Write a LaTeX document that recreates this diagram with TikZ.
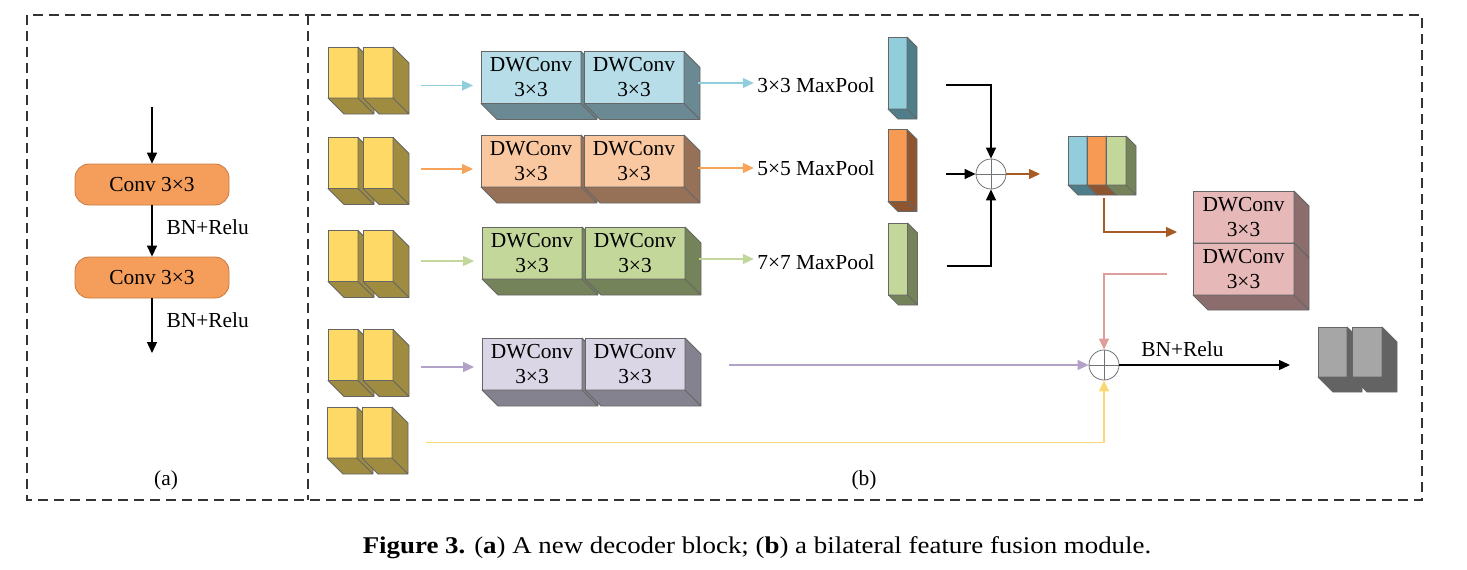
\documentclass[tikz,border=0pt]{standalone}
\usepackage{fontspec}
\setmainfont{Liberation Serif}
\newfontfamily\capfont[FakeStretch=1.12]{Liberation Serif}
\usetikzlibrary{arrows.meta,calc,positioning}

\definecolor{yfront}{HTML}{FFD966}
\definecolor{yside}{HTML}{A08C40}
\definecolor{bfront}{HTML}{B7DDE8}
\definecolor{bside}{HTML}{6B8993}
\definecolor{bbar}{HTML}{92CDDC}
\definecolor{bbarside}{HTML}{4F7D89}
\definecolor{ofront}{HTML}{FAC8A0}
\definecolor{oside}{HTML}{977157}
\definecolor{obar}{HTML}{F79A53}
\definecolor{obarside}{HTML}{8E5630}
\definecolor{gfront}{HTML}{C4D79B}
\definecolor{gside}{HTML}{74835A}
\definecolor{pfront}{HTML}{DAD6E6}
\definecolor{pside}{HTML}{858290}
\definecolor{kfront}{HTML}{E6B9B8}
\definecolor{kside}{HTML}{8B6D6D}
\definecolor{dfront}{HTML}{A6A6A6}
\definecolor{dside}{HTML}{636363}
\definecolor{convfill}{HTML}{F59E5B}
\definecolor{convedge}{HTML}{C77A40}
\definecolor{barrow}{HTML}{92CDDC}
\definecolor{oarrow}{HTML}{F7A35C}
\definecolor{garrow}{HTML}{C3D69B}
\definecolor{parrow}{HTML}{B3A2C7}
\definecolor{yarrow}{HTML}{FAD973}
\definecolor{karrow}{HTML}{DE9E9C}
\definecolor{brarrow}{HTML}{A65A24}

\begin{document}
\begin{tikzpicture}[
  x=1pt, y=-1pt,
  font=\fontsize{21.4}{25}\selectfont,
  conv/.style={rectangle, rounded corners=14pt, draw=convedge, line width=0.8pt, fill=convfill, minimum width=154pt, minimum height=41pt},
  face/.style={rectangle, draw=black!60, line width=0.8pt, inner sep=0pt, outer sep=0pt, align=center},
  yface/.style={face, fill=yfront, minimum width=30pt, minimum height=51pt},
  dw/.style={face, minimum width=100pt, minimum height=52pt},
  bar/.style={face, minimum width=19pt, minimum height=72pt},
  side/.style={draw=black!60, line width=0.8pt, line join=round},
  sum/.style={circle, draw=black!55, line width=0.8pt, minimum size=30pt, inner sep=0pt,
    path picture={\draw[black!55, line width=0.8pt] (path picture bounding box.north) -- (path picture bounding box.south)
      (path picture bounding box.west) -- (path picture bounding box.east);}},
  arrow/.style={-{Triangle[length=11pt,width=10pt]}, line width=1.3pt},
  frame/.style={draw=black!80, line width=1.8pt, dash pattern=on 10pt off 6pt}
]
\useasboundingbox (0,0) rectangle (1467,570);

% panels
\draw[frame] (27,15) rectangle (1422,500);
\draw[frame] (308,15) -- (308,500);
\node (la) at (166,480) {(a)};
\node (lb) at (864,480) {(b)};

% (a) decoder block
\coordinate (ain) at (152,107);
\node[conv] (conv1) at (152,184.5) {Conv 3×3};
\node[conv] (conv2) at (152,277.5) {Conv 3×3};
\coordinate (aout) at (152,353);
\draw[arrow] (ain) -- (conv1);
\draw[arrow] (conv1) -- (conv2);
\draw[arrow] (conv2) -- (aout);
\node[anchor=west] (bn1) at (163,227) {BN+Relu};
\node[anchor=west] (bn2) at (163,320) {BN+Relu};

% (b) input features
\node[yface] (y1a) at (343,72.5) {};
\filldraw[side, fill=yside] (y1a.north east) -- ++(16,16) -- ++(0,51) -- ++(-30,0) -- (y1a.south west) -- (y1a.south east) -- cycle (y1a.south east) -- ++(16,16);
\node[yface, right=5pt of y1a] (y1b) {};
\filldraw[side, fill=yside] (y1b.north east) -- ++(16,16) -- ++(0,51) -- ++(-30,0) -- (y1b.south west) -- (y1b.south east) -- cycle (y1b.south east) -- ++(16,16);

\node[yface] (y2a) at (343,163) {};
\filldraw[side, fill=yside] (y2a.north east) -- ++(16,16) -- ++(0,51) -- ++(-30,0) -- (y2a.south west) -- (y2a.south east) -- cycle (y2a.south east) -- ++(16,16);
\node[yface, right=5pt of y2a] (y2b) {};
\filldraw[side, fill=yside] (y2b.north east) -- ++(16,16) -- ++(0,51) -- ++(-30,0) -- (y2b.south west) -- (y2b.south east) -- cycle (y2b.south east) -- ++(16,16);

\node[yface] (y3a) at (343,256) {};
\filldraw[side, fill=yside] (y3a.north east) -- ++(16,16) -- ++(0,51) -- ++(-30,0) -- (y3a.south west) -- (y3a.south east) -- cycle (y3a.south east) -- ++(16,16);
\node[yface, right=5pt of y3a] (y3b) {};
\filldraw[side, fill=yside] (y3b.north east) -- ++(16,16) -- ++(0,51) -- ++(-30,0) -- (y3b.south west) -- (y3b.south east) -- cycle (y3b.south east) -- ++(16,16);

\node[yface] (y4a) at (343,355) {};
\filldraw[side, fill=yside] (y4a.north east) -- ++(16,16) -- ++(0,51) -- ++(-30,0) -- (y4a.south west) -- (y4a.south east) -- cycle (y4a.south east) -- ++(16,16);
\node[yface, right=5pt of y4a] (y4b) {};
\filldraw[side, fill=yside] (y4b.north east) -- ++(16,16) -- ++(0,51) -- ++(-30,0) -- (y4b.south west) -- (y4b.south east) -- cycle (y4b.south east) -- ++(16,16);

\node[yface] (y5a) at (342,432.5) {};
\filldraw[side, fill=yside] (y5a.north east) -- ++(16,16) -- ++(0,51) -- ++(-30,0) -- (y5a.south west) -- (y5a.south east) -- cycle (y5a.south east) -- ++(16,16);
\node[yface, right=5pt of y5a] (y5b) {};
\filldraw[side, fill=yside] (y5b.north east) -- ++(16,16) -- ++(0,51) -- ++(-30,0) -- (y5b.south west) -- (y5b.south east) -- cycle (y5b.south east) -- ++(16,16);

% depthwise convolutions
\node[dw, fill=bfront] (b1a) at (531,77.5) {DWConv\\3×3};
\filldraw[side, fill=bside] (b1a.north east) -- ++(16,16) -- ++(0,52) -- ++(-100,0) -- (b1a.south west) -- (b1a.south east) -- cycle (b1a.south east) -- ++(16,16);
\node[dw, fill=bfront, right=3pt of b1a] (b1b) {DWConv\\3×3};
\filldraw[side, fill=bside] (b1b.north east) -- ++(16,16) -- ++(0,52) -- ++(-100,0) -- (b1b.south west) -- (b1b.south east) -- cycle (b1b.south east) -- ++(16,16);

\node[dw, fill=ofront] (b2a) at (531,161) {DWConv\\3×3};
\filldraw[side, fill=oside] (b2a.north east) -- ++(16,16) -- ++(0,52) -- ++(-100,0) -- (b2a.south west) -- (b2a.south east) -- cycle (b2a.south east) -- ++(16,16);
\node[dw, fill=ofront, right=3pt of b2a] (b2b) {DWConv\\3×3};
\filldraw[side, fill=oside] (b2b.north east) -- ++(16,16) -- ++(0,52) -- ++(-100,0) -- (b2b.south west) -- (b2b.south east) -- cycle (b2b.south east) -- ++(16,16);

\node[dw, fill=gfront] (b3a) at (532,253) {DWConv\\3×3};
\filldraw[side, fill=gside] (b3a.north east) -- ++(16,16) -- ++(0,52) -- ++(-100,0) -- (b3a.south west) -- (b3a.south east) -- cycle (b3a.south east) -- ++(16,16);
\node[dw, fill=gfront, right=3pt of b3a] (b3b) {DWConv\\3×3};
\filldraw[side, fill=gside] (b3b.north east) -- ++(16,16) -- ++(0,52) -- ++(-100,0) -- (b3b.south west) -- (b3b.south east) -- cycle (b3b.south east) -- ++(16,16);

\node[dw, fill=pfront] (b4a) at (532,364) {DWConv\\3×3};
\filldraw[side, fill=pside] (b4a.north east) -- ++(16,16) -- ++(0,52) -- ++(-100,0) -- (b4a.south west) -- (b4a.south east) -- cycle (b4a.south east) -- ++(16,16);
\node[dw, fill=pfront, right=3pt of b4a] (b4b) {DWConv\\3×3};
\filldraw[side, fill=pside] (b4b.north east) -- ++(16,16) -- ++(0,52) -- ++(-100,0) -- (b4b.south west) -- (b4b.south east) -- cycle (b4b.south east) -- ++(16,16);

% max pooling
\node (mp1) at (816,85) {3×3 MaxPool};
\node (mp2) at (816,168) {5×5 MaxPool};
\node (mp3) at (816,262) {7×7 MaxPool};

\node[bar, fill=bbar] (bar1) at (897.5,73) {};
\filldraw[side, fill=bbarside] (bar1.north east) -- ++(10,10) -- ++(0,72) -- ++(-19,0) -- (bar1.south west) -- (bar1.south east) -- cycle (bar1.south east) -- ++(10,10);
\node[bar, fill=obar] (bar2) at (897.5,165.5) {};
\filldraw[side, fill=obarside] (bar2.north east) -- ++(10,10) -- ++(0,72) -- ++(-19,0) -- (bar2.south west) -- (bar2.south east) -- cycle (bar2.south east) -- ++(10,10);
\node[bar, fill=gfront] (bar3) at (898,259) {};
\filldraw[side, fill=gside] (bar3.north east) -- ++(10,10) -- ++(0,72) -- ++(-19,0) -- (bar3.south west) -- (bar3.south east) -- cycle (bar3.south east) -- ++(10,10);

% fusion
\node[sum] (sum1) at (991,174) {};
\node[sum] (sum2) at (1104,365) {};

\node[face, fill=bbar, minimum width=19pt, minimum height=49pt] (catb) at (1077.5,160.5) {};
\filldraw[side, fill=bbarside] (catb.north east) -- ++(10,10) -- ++(0,49) -- ++(-19,0) -- (catb.south west) -- (catb.south east) -- cycle (catb.south east) -- ++(10,10);
\node[face, fill=obar, minimum width=19pt, minimum height=49pt, right=0pt of catb] (cato) {};
\filldraw[side, fill=obarside] (cato.north east) -- ++(10,10) -- ++(0,49) -- ++(-19,0) -- (cato.south west) -- (cato.south east) -- cycle (cato.south east) -- ++(10,10);
\node[face, fill=gfront, minimum width=20pt, minimum height=49pt, right=0pt of cato] (catg) {};
\filldraw[side, fill=gside] (catg.north east) -- ++(10,10) -- ++(0,49) -- ++(-20,0) -- (catg.south west) -- (catg.south east) -- cycle (catg.south east) -- ++(10,10);

\node[face, fill=kfront, minimum width=101pt, minimum height=52pt] (pk1) at (1243.5,217) {DWConv\\3×3};
\filldraw[side, fill=kside] (pk1.north east) -- ++(15,15) -- ++(0,52) -- ++(-101,0) -- (pk1.south west) -- (pk1.south east) -- cycle (pk1.south east) -- ++(15,15);
\node[face, fill=kfront, minimum width=101pt, minimum height=52pt, below=0pt of pk1] (pk2) {DWConv\\3×3};
\filldraw[side, fill=kside] (pk2.north east) -- ++(15,15) -- ++(0,52) -- ++(-101,0) -- (pk2.south west) -- (pk2.south east) -- cycle (pk2.south east) -- ++(15,15);

% output
\node[face, fill=dfront, minimum width=29pt, minimum height=50pt] (g1) at (1332.5,352) {};
\filldraw[side, fill=dside] (g1.north east) -- ++(15,15) -- ++(0,50) -- ++(-29,0) -- (g1.south west) -- (g1.south east) -- cycle (g1.south east) -- ++(15,15);
\node[face, fill=dfront, minimum width=30pt, minimum height=50pt, right=5pt of g1] (g2) {};
\filldraw[side, fill=dside] (g2.north east) -- ++(15,15) -- ++(0,50) -- ++(-30,0) -- (g2.south west) -- (g2.south east) -- cycle (g2.south east) -- ++(15,15);

% Arrows
\draw[arrow, barrow] ($(y1b.east |- b1a.west)+(28,8)$) -- ($(b1a.west)+(-8,8)$);
\draw[arrow, oarrow] ($(y2b.east |- b2a.west)+(28,8)$) -- ($(b2a.west)+(-8,8)$);
\draw[arrow, garrow] ($(y3b.east |- b3a.west)+(28,8)$) -- ($(b3a.west)+(-8,8)$);
\draw[arrow, parrow] ($(y4b.east |- b4a.west)+(28,3)$) -- ($(b4a.west)+(-8,3)$);

\draw[arrow, barrow] ($(b1b.east |- mp1)+(14,-2)$) -- ($(mp1.west)+(0,-2)$);
\draw[arrow, oarrow] ($(b2b.east |- mp2)+(14,0)$) -- (mp2.west);
\draw[arrow, garrow] ($(b3b.east |- mp3)+(14,-3)$) -- ($(mp3.west)+(0,-3)$);

\draw[arrow] ($(bar1.east |- mp1)+(39,0)$) -| (sum1);
\draw[arrow] ($(bar2.east |- sum1)+(39,0)$) -- (sum1);
\draw[arrow] ($(bar3.east |- mp3)+(39,4)$) -| (sum1);
\draw[arrow, brarrow] (sum1) -- ($(catb.west |- sum1)+(-28,0)$);

\draw[arrow, brarrow] ($(sum2 |- cato.south)+(0,13)$) |- ($(pk1.west)+(-16,15)$);
\draw[arrow, karrow] ($(pk2.west)+(-26,5)$) -| (sum2);
\draw[arrow, parrow] ($(b4b.east |- sum2)+(44,0)$) -- (sum2);
\draw[arrow, yarrow] ($(y5b.east)+(34,10)$) -| (sum2);
\draw[arrow] (sum2) -- node[pos=0.37, above=4pt] (bn3) {BN+Relu} ($(g1.west |- sum2)+(-28,0)$);

% caption
\node (cap) at (757,548) {\capfont\fontsize{24}{28}\selectfont\textbf{Figure 3.} (\textbf{a}) A new decoder block; (\textbf{b}) a bilateral feature fusion module.};

\end{tikzpicture}
\end{document}
